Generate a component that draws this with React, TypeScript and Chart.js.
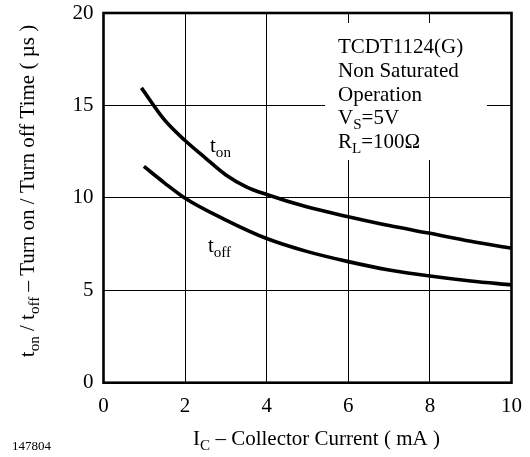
import React, { useEffect, useRef } from 'react';
import { Chart, registerables } from 'chart.js';
Chart.register(...registerables);

// Collector current (mA) and switching times (µs)
const tOnCurrent = [0.93, 1.5, 2, 2.5, 3, 3.5, 4, 5, 6, 7, 8, 9, 10];
const tOnTime = [15.95, 14.2, 13.1, 12.15, 11.24, 10.6, 10.18, 9.5, 8.98, 8.5, 8.08, 7.65, 7.27];
const tOffCurrent = [0.99, 1.5, 2, 3, 4, 5, 6, 7, 8, 9, 10];
const tOffTime = [11.7, 10.8, 9.98, 8.8, 7.8, 7.09, 6.55, 6.1, 5.77, 5.5, 5.29];

const xMin = 0, xMax = 10, xStep = 2;
const yMin = 0, yMax = 20, yStep = 5;

type Seg = { t: string; sub?: boolean };
const annotationLines: Seg[][] = [
  [{ t: 'TCDT1124(G)' }],
  [{ t: 'Non Saturated' }],
  [{ t: 'Operation' }],
  [{ t: 'V' }, { t: 'S', sub: true }, { t: '=5V' }],
  [{ t: 'R' }, { t: 'L', sub: true }, { t: '=100Ω' }],
];
const tOnLabel: Seg[] = [{ t: 't' }, { t: 'on', sub: true }];
const tOffLabel: Seg[] = [{ t: 't' }, { t: 'off', sub: true }];
const tOnLabelPos = { x: 2.61, y: 12.48 };
const tOffLabelPos = { x: 2.56, y: 7.07 };
const xTitle: Seg[] = [{ t: 'I' }, { t: 'C', sub: true }, { t: ' – Collector Current ( mA )' }];
const yTitle: Seg[] = [
  { t: 't' }, { t: 'on', sub: true }, { t: ' / t' }, { t: 'off', sub: true },
  { t: ' – Turn on / Turn off Time ( µs )' },
];
const figureId = '147804';

const FONT = '"Liberation Serif", "Times New Roman", serif';
const FS = 21;

function richWidth(ctx: CanvasRenderingContext2D, segs: Seg[], size: number) {
  let w = 0;
  for (const s of segs) {
    ctx.font = `${s.sub ? size * 0.72 : size}px ${FONT}`;
    w += ctx.measureText(s.t).width;
  }
  return w;
}

function drawRich(ctx: CanvasRenderingContext2D, segs: Seg[], x: number, y: number, size: number, align: 'left' | 'center') {
  const w = richWidth(ctx, segs, size);
  let cx = align === 'center' ? x - w / 2 : x;
  ctx.textAlign = 'left';
  ctx.textBaseline = 'alphabetic';
  for (const s of segs) {
    const sz = s.sub ? size * 0.72 : size;
    ctx.font = `${sz}px ${FONT}`;
    ctx.fillText(s.t, cx, s.sub ? y + size * 0.22 : y);
    cx += ctx.measureText(s.t).width;
  }
}

const decorPlugin = {
  id: 'decor',
  afterDraw(chart: any) {
    const ctx: CanvasRenderingContext2D = chart.ctx;
    const { left, right, top, bottom } = chart.chartArea;
    const xs = chart.scales.x;
    const ys = chart.scales.y;
    ctx.save();
    // frame
    ctx.strokeStyle = '#000';
    ctx.lineWidth = 2.6;
    ctx.strokeRect(left, top, right - left, bottom - top);
    // annotation box
    ctx.fillStyle = '#fff';
    ctx.fillRect(325, 23, 162, 137);
    ctx.fillStyle = '#000';
    annotationLines.forEach((line, i) => drawRich(ctx, line, 338, 53 + i * 23.8, FS, 'left'));
    // curve labels
    drawRich(ctx, tOnLabel, xs.getPixelForValue(tOnLabelPos.x), ys.getPixelForValue(tOnLabelPos.y), FS, 'left');
    drawRich(ctx, tOffLabel, xs.getPixelForValue(tOffLabelPos.x), ys.getPixelForValue(tOffLabelPos.y), FS, 'left');
    // x title
    drawRich(ctx, xTitle, 316.5, 445, FS, 'center');
    // y title
    ctx.save();
    ctx.translate(34, 191);
    ctx.rotate(-Math.PI / 2);
    drawRich(ctx, yTitle, 0, 0, FS, 'center');
    ctx.restore();
    // figure id
    ctx.font = `13px ${FONT}`;
    ctx.textAlign = 'left';
    ctx.fillText(figureId, 12, 450);
    ctx.restore();
  },
};

export default function App() {
  const ref = useRef<HTMLCanvasElement>(null);
  useEffect(() => {
    document.body.style.margin = '0';
    const canvas = ref.current!;
    const chart = new Chart(canvas, {
      type: 'line',
      data: {
        datasets: [
          {
            data: tOnCurrent.map((x, i) => ({ x, y: tOnTime[i] })),
            borderColor: '#000',
            borderWidth: 3.6,
            pointRadius: 0,
            cubicInterpolationMode: 'monotone',
          },
          {
            data: tOffCurrent.map((x, i) => ({ x, y: tOffTime[i] })),
            borderColor: '#000',
            borderWidth: 3.6,
            pointRadius: 0,
            cubicInterpolationMode: 'monotone',
          },
        ],
      },
      options: {
        responsive: false,
        animation: false,
        layout: { padding: { top: 13, right: 18.5, left: 0, bottom: 0 } },
        plugins: { legend: { display: false }, tooltip: { enabled: false } },
        scales: {
          x: {
            type: 'linear',
            min: xMin,
            max: xMax,
            ticks: { stepSize: xStep, color: '#000', font: { family: FONT, size: FS }, padding: 11, maxRotation: 0 },
            grid: { color: '#000', lineWidth: 1, drawTicks: false },
            border: { display: false },
            afterFit: (s: any) => { s.height = 74.3; s.paddingLeft = 0; s.paddingRight = 0; },
          },
          y: {
            type: 'linear',
            min: yMin,
            max: yMax,
            ticks: { stepSize: yStep, color: '#000', font: { family: FONT, size: FS }, padding: 10 },
            grid: { color: '#000', lineWidth: 1, drawTicks: false },
            border: { display: false },
            afterFit: (s: any) => { s.width = 103.5; s.paddingTop = 0; s.paddingBottom = 0; },
          },
        },
      },
      plugins: [decorPlugin],
    } as any);
    return () => chart.destroy();
  }, []);
  return <canvas ref={ref} width={530} height={457} style={{ display: 'block' }} />;
}
